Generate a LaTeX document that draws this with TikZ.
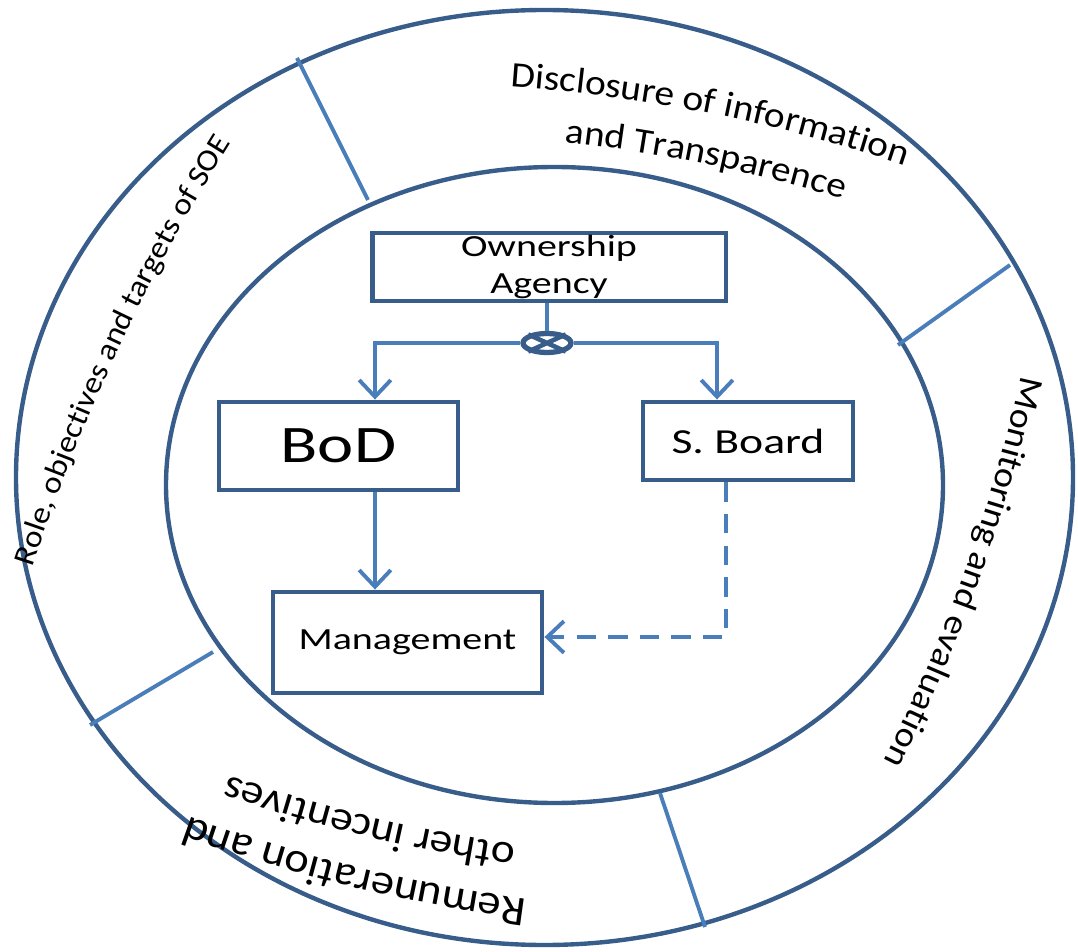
\documentclass[tikz,border=0pt]{standalone}
\usepackage{fontspec}
\setmainfont{Carlito}
\newfontfamily\boxfont[FakeStretch=1.3]{Carlito}
\newfontfamily\ringfont[FakeStretch=1.1]{Carlito}
\usetikzlibrary{arrows.meta,decorations.text,shapes.geometric}
\definecolor{ringblue}{HTML}{385D8A}
\definecolor{linkblue}{HTML}{4A7EBB}
\begin{document}
\begin{tikzpicture}[x=0.02cm,y=0.02cm,
  ring/.style={draw=ringblue,line width=2.5pt},
  divider/.style={draw=linkblue,line width=2.2pt},
  unit/.style={draw=ringblue,line width=2.8pt,inner sep=0pt,align=center},
  link/.style={draw=linkblue,line width=2.2pt},
  tip/.style={-{Straight Barb[length=9.5pt,width=18pt]}},
  ringtext/.style={decorate,decoration={text along path,text align=center,raise=-5.5pt,text={#1}}}]
\useasboundingbox (0,0) rectangle (1078,-952);
% the two rings and the four cuts between them
\draw[ring] (544.5,-477.5) ellipse [x radius=528.5,y radius=467.5];
\draw[ring] (554.5,-485) ellipse [x radius=388.5,y radius=318];
\draw[divider] (297,-58)--(368,-200) (1010,-265)--(898,-345) (90,-725)--(213,-652) (705,-927)--(660,-793);
% texts round the ring
\path[ringtext={|\ringfont\fontsize{17.3}{20}\selectfont|Role, objectives and targets of SOE}] (-22.2,-728.7) arc[start angle=167,end angle=143,radius=1941];
\path[ringtext={|\ringfont\fontsize{20.4}{24}\selectfont|Disclosure of information}] (211.8,-83.9) arc[start angle=96.7,end angle=60.7,radius=1600];
\path[ringtext={|\ringfont\fontsize{20.3}{24}\selectfont|and Transparence}] (221.2,-132.7) arc[start angle=96.4,end angle=60.4,radius=1555];
\path[ringtext={|\ringfont\fontsize{19.7}{23}\selectfont|Monitoring and evaluation}] (1053.6,-245.9) arc[start angle=-7.6,end angle=-31.6,radius=1625];
\path[ringtext={|\ringfont\fontsize{24}{28}\selectfont|Remuneration and}] (686.3,-921.3) arc[start angle=268.3,end angle=244.3,radius=1607];
\path[ringtext={|\ringfont\fontsize{23.5}{28}\selectfont|other incentives}] (690.6,-869.4) arc[start angle=268.4,end angle=244.4,radius=1555];
% the boxes
\node[unit,minimum width=7.08cm,minimum height=1.36cm,font=\boxfont\fontsize{17.5}{21.5}\selectfont] (own) at (549,-267) {Ownership\\Agency};
\node[unit,minimum width=4.78cm,minimum height=1.76cm,font=\boxfont\fontsize{30}{36}\selectfont] (bod) at (338.5,-446) {BoD};
\node[unit,minimum width=4.2cm,minimum height=1.56cm,font=\boxfont\fontsize{20}{24}\selectfont] (sb) at (748,-441) {S. Board};
\node[unit,minimum width=5.38cm,minimum height=2.02cm,font=\boxfont\fontsize{17.5}{21.5}\selectfont] (mgmt) at (407.5,-642.5) {Management};
\node[draw=ringblue,line width=3pt,ellipse,inner sep=0pt,minimum width=0.96cm,minimum height=0.38cm] (junc) at (547,-343) {};
\draw[ringblue,line width=2.6pt] (junc.north west)--(junc.south east) (junc.south west)--(junc.north east);
% links
\draw[link] (own.south -| junc) -- (junc);
\draw[link,tip] (junc.west) -| ([xshift=0.73cm]bod.north);
\draw[link,tip] (junc.east) -| ([xshift=-0.62cm]sb.north);
\draw[link,tip] ([xshift=0.73cm]bod.south) -- ([xshift=0.73cm]bod.south |- mgmt.north);
\draw[link,tip,dash pattern=on 11pt off 7pt] ([xshift=-0.44cm]sb.south) |- ([yshift=0.11cm]mgmt.east);
\end{tikzpicture}
\end{document}
